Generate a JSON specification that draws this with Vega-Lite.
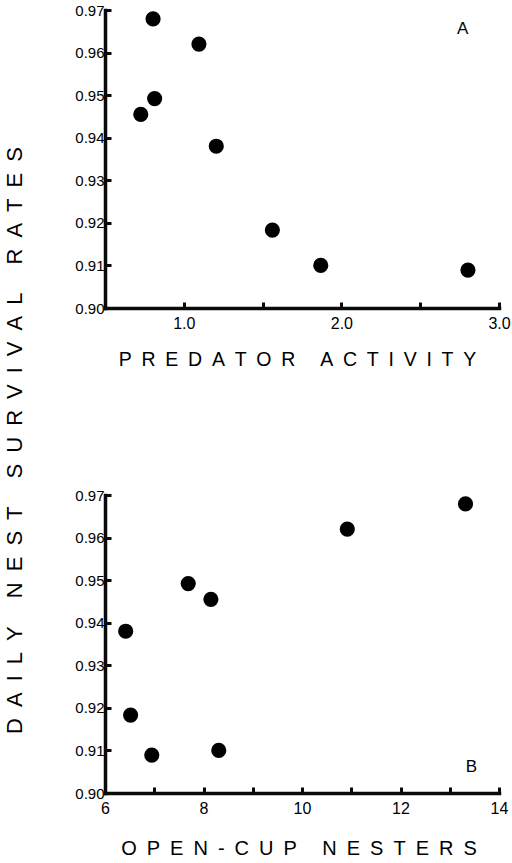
{
  "$schema": "https://vega.github.io/schema/vega-lite/v6.json",
  "background": "white",
  "padding": {"left": 2, "top": 3, "right": 0, "bottom": 0},
  "config": {
    "view": {"stroke": null},
    "font": "Liberation Sans",
    "axis": {"domainColor": "#0a0a0a", "domainWidth": 3.5, "domainCap": "square", "tickColor": "#0a0a0a", "tickWidth": 3, "labelColor": "black"},
    "axisX": {"domainColor": "#0a0a0a", "domainWidth": 3.5, "tickColor": "#0a0a0a", "tickWidth": 3},
    "axisY": {"domainColor": "#0a0a0a", "domainWidth": 3.5, "tickColor": "#0a0a0a", "tickWidth": 3}
  },
  "datasets": {
    "sites": [
      {"predator": 0.805, "opencup": 13.32, "dsr": 0.9679},
      {"predator": 1.096, "opencup": 10.92, "dsr": 0.9620},
      {"predator": 0.815, "opencup": 7.69, "dsr": 0.9492},
      {"predator": 0.727, "opencup": 8.15, "dsr": 0.9455},
      {"predator": 1.206, "opencup": 6.42, "dsr": 0.9380},
      {"predator": 1.562, "opencup": 6.52, "dsr": 0.9183},
      {"predator": 1.869, "opencup": 8.31, "dsr": 0.9100},
      {"predator": 2.803, "opencup": 6.95, "dsr": 0.9089}
    ],
    "labA": [{"label": "A", "predator": 2.77, "dsr": 0.9655}],
    "labB": [{"label": "B", "opencup": 13.44, "dsr": 0.9062}]
  },
  "bounds": "flush",
  "spacing": 187,
  "vconcat": [
    {
      "width": 394,
      "height": 298,
      "layer": [
        {
          "data": {"name": "sites"},
          "mark": {"type": "circle", "size": 230, "color": "black", "opacity": 1},
          "encoding": {
            "x": {
              "field": "predator", "type": "quantitative",
              "scale": {"domain": [0.5, 3], "nice": false, "zero": false},
              "axis": {
                "grid": false,
                "tickSize": -6,
                "values": [0.5, 1, 1.5, 2, 2.5, 3],
                "labelExpr": "datum.value % 1 == 0 ? format(datum.value, '.1f') : ''",
                "labelFont": "Liberation Sans",
                "labelFontSize": 16,
                "labelPadding": 13,
                "labelFlush": false,
                "title": "P\u2002R\u2002E\u2002D\u2002A\u2002T\u2002O\u2002R\u2002 \u2002A\u2002C\u2002T\u2002I\u2002V\u2002I\u2002T\u2002Y",
                "titleFont": "Liberation Sans",
                "titleColor": "black",
                "titleFontWeight": "normal",
                "titleFontSize": 19.5,
                "titleAlign": "center",
                "titleBaseline": "alphabetic",
                "titleX": 192,
                "titleY": 57
              }
            },
            "y": {
              "field": "dsr", "type": "quantitative",
              "scale": {"domain": [0.9, 0.97], "nice": false, "zero": false},
              "axis": {
                "grid": false,
                "tickSize": -6,
                "values": [0.9, 0.905, 0.91, 0.915, 0.92, 0.925, 0.93, 0.935, 0.94, 0.945, 0.95, 0.955, 0.96, 0.965, 0.97],
                "labelExpr": "round(datum.value * 1000) % 10 == 0 ? format(datum.value, '.2f') : ''",
                "labelFont": "Liberation Sans",
                "labelFontSize": 15,
                "labelPadding": 7,
                "labelFlush": false,
                "title": "D\u2002A\u2002I\u2002L\u2002Y\u2002 \u2002N\u2002E\u2002S\u2002T\u2002 \u2002S\u2002U\u2002R\u2002V\u2002I\u2002V\u2002A\u2002L\u2002 \u2002R\u2002A\u2002T\u2002E\u2002S",
                "titleFont": "Liberation Sans",
                "titleColor": "black",
                "titleFontWeight": "normal",
                "titleFontSize": 22,
                "titleAngle": 270,
                "titleAlign": "center",
                "titleBaseline": "alphabetic",
                "titleX": -84,
                "titleY": 430
              }
            }
          }
        },
        {
          "data": {"name": "labA"},
          "mark": {"type": "text", "fontSize": 17, "font": "Liberation Sans", "color": "black", "align": "center", "baseline": "middle"},
          "encoding": {
            "x": {"field": "predator", "type": "quantitative"},
            "y": {"field": "dsr", "type": "quantitative"},
            "text": {"field": "label"}
          }
        }
      ]
    },
    {
      "width": 394,
      "height": 298,
      "layer": [
        {
          "data": {"name": "sites"},
          "mark": {"type": "circle", "size": 230, "color": "black", "opacity": 1},
          "encoding": {
            "x": {
              "field": "opencup", "type": "quantitative",
              "scale": {"domain": [6, 14], "nice": false, "zero": false},
              "axis": {
                "grid": false,
                "tickSize": -6,
                "values": [6, 7, 8, 9, 10, 11, 12, 13, 14],
                "labelExpr": "datum.value % 2 == 0 ? datum.label : ''",
                "labelFont": "Liberation Sans",
                "labelFontSize": 16,
                "labelPadding": 13,
                "labelFlush": false,
                "title": "O\u2002P\u2002E\u2002N\u2002-\u2002C\u2002U\u2002P\u2002 \u2002N\u2002E\u2002S\u2002T\u2002E\u2002R\u2002S",
                "titleFont": "Liberation Sans",
                "titleColor": "black",
                "titleFontWeight": "normal",
                "titleFontSize": 20,
                "titleAlign": "center",
                "titleBaseline": "alphabetic",
                "titleX": 193.5,
                "titleY": 61
              }
            },
            "y": {
              "field": "dsr", "type": "quantitative",
              "scale": {"domain": [0.9, 0.97], "nice": false, "zero": false},
              "axis": {
                "grid": false,
                "tickSize": -6,
                "values": [0.9, 0.905, 0.91, 0.915, 0.92, 0.925, 0.93, 0.935, 0.94, 0.945, 0.95, 0.955, 0.96, 0.965, 0.97],
                "labelExpr": "round(datum.value * 1000) % 10 == 0 ? format(datum.value, '.2f') : ''",
                "labelFont": "Liberation Sans",
                "labelFontSize": 15,
                "labelPadding": 7,
                "labelFlush": false,
                "title": null
              }
            }
          }
        },
        {
          "data": {"name": "labB"},
          "mark": {"type": "text", "fontSize": 17, "font": "Liberation Sans", "color": "black", "align": "center", "baseline": "middle"},
          "encoding": {
            "x": {"field": "opencup", "type": "quantitative"},
            "y": {"field": "dsr", "type": "quantitative"},
            "text": {"field": "label"}
          }
        }
      ]
    }
  ]
}
